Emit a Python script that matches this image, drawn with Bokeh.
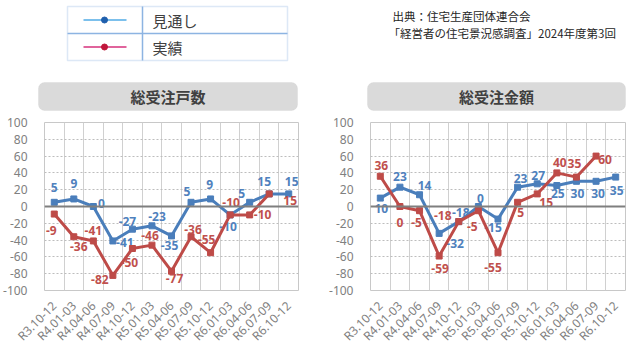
import math
from bokeh.plotting import figure
from bokeh.layouts import column, row
from bokeh.models import Range1d, FixedTicker, Span, BoxAnnotation, ColumnDataSource
from bokeh.core.properties import value
from bokeh.embed import file_html
from bokeh.resources import INLINE

# ---------------- data ----------------
categories = ["R3.10-12", "R4.01-03", "R4.04-06", "R4.07-09", "R4.10-12", "R5.01-03",
              "R5.04-06", "R5.07-09", "R5.10-12", "R6.01-03", "R6.04-06", "R6.07-09", "R6.10-12"]
units_forecast = [5, 9, 0, -41, -27, -23, -35, 5, 9, -10, 5, 15, 15]
units_actual = [-9, -36, -41, -82, -50, -46, -77, -36, -55, -10, -10, 15]
amount_forecast = [10, 23, 14, -32, -18, 0, -15, 23, 27, 25, 30, 30, 35]
amount_actual = [36, 0, -5, -59, -18, -5, -55, 5, 15, 40, 35, 60]
y_ticks = list(range(-100, 101, 20))

series_names = ["見通し", "実績"]
chart_titles = ["総受注戸数", "総受注金額"]
source_lines = ["出典：住宅生産団体連合会", "「経営者の住宅景況感調査」2024年度第3回"]

# ---------------- style (label offsets in px) ----------------
units_forecast_off = [(0, -15), (0, -15), (8, -3), (12, 2), (-5, -8), (5, -9), (-2, 10),
                      (-4, -11), (-1, -14), (-2, 12), (-8, -9), (-5, -12), (3, -12)]
units_actual_off = [(-3, 16), (5, 10), (0, -10), (-13, 4), (-3, 14), (-2, -10), (3, 7),
                    (2, -7), (-4, -13), (1, -12), (13, 0), (21, 7)]
amount_forecast_off = [(1, 10), (0, -11), (5, -9), (16, 10), (2, -9), (2, -8), (-5, 8),
                       (3, -9), (1, -8), (1, 8), (1, 12), (2, 12), (1, 13)]
amount_actual_off = [(1, -11), (0, 16), (-3, 12), (1, 12), (-16, -6), (-6, 16), (-5, 15),
                     (3, 10), (9, 9), (3, -10), (-2, -14), (9, 3)]

BLUE = "#4a7ebb"
RED = "#be4b48"
BLUE_TXT = "#4f81bd"
RED_TXT = "#c0504d"
FONT = "Noto Sans"
CJK = "Noto Sans CJK JP"


def add_series(p, vals, offs, line_color, text_color):
    xs = list(range(len(vals)))
    src = ColumnDataSource(dict(
        x=xs, y=vals, label=[str(v) for v in vals],
        dx=[o[0] for o in offs], dy=[o[1] for o in offs]))
    p.line("x", "y", source=src, line_color=line_color, line_width=3)
    p.scatter("x", "y", source=src, marker="square", size=6, fill_color=line_color,
              line_color=line_color)
    p.text("x", "y", text="label", source=src, x_offset="dx", y_offset="dy",
           text_align="center", text_baseline="middle", text_color=text_color,
           text_font=value(FONT), text_font_size="12px", text_font_style="bold")


def make_chart(forecast, actual, f_off, a_off, bl, br, bb):
    p = figure(width=320, height=246, x_range=Range1d(-0.5, len(categories) - 0.5),
               y_range=Range1d(-100, 100), output_backend="svg", toolbar_location=None,
               min_border_left=bl, min_border_right=br, min_border_top=10,
               min_border_bottom=bb)
    p.outline_line_color = "#c8c8c8"
    p.background_fill_color = "white"
    p.border_fill_color = "white"
    # x axis
    p.xaxis.ticker = FixedTicker(ticks=list(range(len(categories))))
    p.xaxis.major_label_overrides = {i: c for i, c in enumerate(categories)}
    p.xaxis.major_label_orientation = math.pi / 4
    # y axis
    p.yaxis.ticker = FixedTicker(ticks=y_ticks)
    p.yaxis.major_label_overrides = {t: str(t) for t in y_ticks}
    for ax in (p.xaxis, p.yaxis):
        ax.axis_line_color = None
        ax.major_tick_line_color = None
        ax.minor_tick_line_color = None
        ax.major_label_text_color = "#808080"
        ax.major_label_text_font = FONT
        ax.major_label_text_font_size = "12px"
    p.yaxis.major_label_standoff = 11
    p.xaxis.major_label_standoff = 7
    # grids
    p.xgrid.ticker = FixedTicker(ticks=[i + 0.5 for i in range(len(categories) - 1)])
    p.xgrid.grid_line_color = "#d0d0d0"
    p.xgrid.grid_line_width = 1
    p.ygrid.ticker = FixedTicker(ticks=y_ticks)
    p.ygrid.grid_line_color = "#bdbdbd"
    p.ygrid.grid_line_dash = "2 2"
    p.add_layout(Span(location=0, dimension="width", line_color="#7f7f7f", line_width=2))
    add_series(p, forecast, f_off, BLUE, BLUE_TXT)
    add_series(p, actual, a_off, RED, RED_TXT)
    return p


# ---------------- header (legend, source, titles) ----------------
H = 112
hdr = figure(width=640, height=H, x_range=Range1d(0, 640), y_range=Range1d(H, 0),
             output_backend="svg", toolbar_location=None, min_border=0)
hdr.axis.visible = False
hdr.grid.visible = False
hdr.outline_line_color = None

LEG = "#8db4e2"
hdr.add_layout(BoxAnnotation(left=67, right=287, top=6, bottom=60, fill_color=None,
                             line_color=LEG, line_width=1.5, level="underlay"))
hdr.segment(x0=[142, 67], y0=[6, 33], x1=[142, 287], y1=[60, 33], line_color=LEG,
            line_width=1.5)
row_y = [19.5, 46.5]
hdr.segment(x0=[83, 83], y0=row_y, x1=[126, 126], y1=row_y,
            line_color=["#7cc0ec", "#e0649c"], line_width=2)
hdr.scatter(x=[104, 104], y=row_y, size=6, fill_color=["#1f5fad", "#c0163a"],
            line_color=["#1f5fad", "#c0163a"])
hdr.text(x=[152, 152], y=row_y, text=series_names, text_baseline="middle",
         text_align="left", text_font=value(CJK), text_font_size="15px",
         text_color="#404040")
hdr.text(x=[392, 388], y=[15, 32], text=source_lines, text_baseline="middle",
         text_align="left", text_font=value(CJK), text_font_size="11.5px",
         text_color="#262626")
for (l, r) in [(38, 297), (367, 625)]:
    hdr.add_layout(BoxAnnotation(left=l, right=r, top=82, bottom=110, fill_color="#dadada",
                                 fill_alpha=1, line_color="#d0d0d0", line_width=1,
                                 border_radius=6, level="underlay"))
hdr.text(x=[167.5, 496], y=[96, 96], text=chart_titles, text_baseline="middle",
         text_align="center", text_font=value(CJK), text_font_size="15px",
         text_color="#404040", text_font_style="bold")

p1 = make_chart(units_forecast, units_actual, units_forecast_off, units_actual_off, 43, 22, 57)
p2 = make_chart(amount_forecast, amount_actual, amount_forecast_off, amount_actual_off, 50, 15, 68)

layout = column(hdr, row(p1, p2, spacing=0), spacing=0)
open("out.html", "w").write(file_html(layout, INLINE))
